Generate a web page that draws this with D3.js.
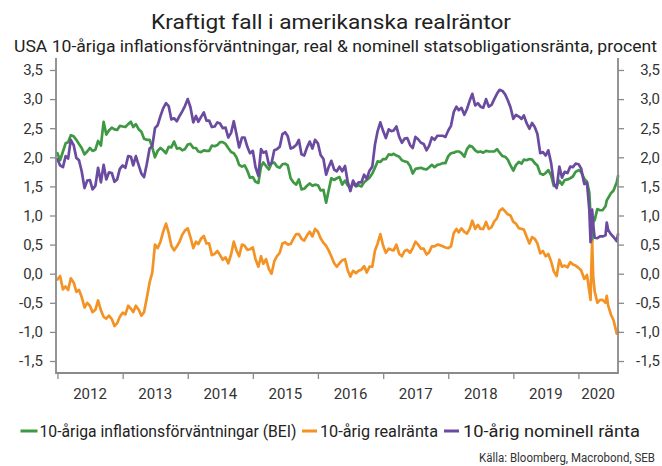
<!DOCTYPE html>
<html><head><meta charset="utf-8">
<script src="https://cdn.jsdelivr.net/npm/d3@7"></script>
<style>html,body{margin:0;padding:0;background:#fff}svg{display:block}</style>
</head><body>
<svg id="chart" width="662" height="466"></svg>
<script>
// ---------- DATA ----------
// 2012-2019: two observations per month (1st and 16th); 2020: explicit dates below
const years = [2012, 2013, 2014, 2015, 2016, 2017, 2018, 2019];
const dates2020 = ["2020-01-02","2020-01-16","2020-02-03","2020-02-18","2020-03-02","2020-03-09","2020-03-13","2020-03-18","2020-03-24","2020-04-01","2020-04-16","2020-05-01","2020-05-15","2020-06-01","2020-06-08","2020-06-16","2020-07-01","2020-07-16","2020-08-03","2020-08-10"];

// 10-åriga inflationsförväntningar (BEI)
const bei = [
  2.07,1.95,2.10,2.24,2.26,2.38,2.36,2.30,2.23,2.16,2.05,2.10,2.16,2.11,2.13,2.28,2.20,2.61,2.39,2.46,2.51,2.48,2.47,2.54,
  2.53,2.52,2.57,2.61,2.52,2.57,2.48,2.44,2.32,2.30,2.30,2.17,2.00,2.11,2.16,2.12,2.07,2.18,2.17,2.27,2.15,2.16,2.12,2.14,
  2.22,2.23,2.16,2.16,2.10,2.09,2.12,2.11,2.11,2.20,2.19,2.21,2.26,2.26,2.23,2.16,2.09,2.07,2.00,1.87,1.84,1.86,1.77,1.65,
  1.66,1.58,1.56,1.84,1.91,1.85,1.79,1.90,1.91,1.84,1.82,1.88,1.89,1.86,1.64,1.57,1.53,1.62,1.45,1.46,1.51,1.55,1.51,1.53,
  1.52,1.43,1.44,1.22,1.43,1.64,1.61,1.64,1.66,1.53,1.60,1.52,1.47,1.55,1.50,1.52,1.50,1.57,1.61,1.65,1.72,1.82,1.93,1.92,
  1.97,1.97,2.05,2.04,2.06,2.03,2.01,1.95,1.93,1.92,1.85,1.72,1.80,1.81,1.82,1.80,1.79,1.83,1.87,1.83,1.87,1.88,1.90,1.90,
  2.02,2.07,2.08,2.10,2.10,2.07,2.01,2.14,2.20,2.18,2.12,2.09,2.10,2.08,2.11,2.10,2.10,2.10,2.14,2.08,2.02,2.01,1.96,1.86,
  1.77,1.87,1.92,1.89,1.96,1.95,1.97,1.96,1.90,1.86,1.72,1.70,1.73,1.78,1.69,1.51,1.51,1.60,1.53,1.61,1.62,1.64,1.67,1.75,
  1.78,1.75,1.63,1.58,1.40,0.99,0.89,0.55,0.89,0.92,1.11,1.09,1.09,1.16,1.26,1.30,1.38,1.43,1.57,1.68
];
// 10-årig realränta
const real = [
  -0.10,-0.04,-0.27,-0.22,-0.28,-0.08,-0.15,-0.31,-0.28,-0.40,-0.58,-0.50,-0.55,-0.66,-0.62,-0.46,-0.63,-0.74,-0.77,-0.72,-0.78,-0.90,-0.85,-0.74,
  -0.67,-0.70,-0.55,-0.60,-0.66,-0.55,-0.62,-0.72,-0.66,-0.42,-0.15,0.02,0.50,0.44,0.55,0.72,0.86,0.70,0.48,0.40,0.47,0.55,0.67,0.74,
  0.78,0.63,0.44,0.55,0.51,0.60,0.65,0.52,0.52,0.32,0.34,0.39,0.32,0.24,0.28,0.18,0.33,0.55,0.40,0.30,0.50,0.48,0.41,0.42,
  0.45,0.25,0.12,0.30,0.17,0.25,0.08,0.00,0.21,0.30,0.36,0.52,0.54,0.50,0.51,0.60,0.68,0.68,0.60,0.57,0.66,0.72,0.64,0.77,
  0.72,0.61,0.53,0.48,0.40,0.30,0.18,0.12,0.18,0.23,0.25,0.06,-0.05,0.05,0.01,0.05,0.07,0.13,0.02,0.12,0.12,0.40,0.52,0.68,
  0.48,0.36,0.43,0.41,0.40,0.50,0.34,0.30,0.39,0.41,0.36,0.44,0.55,0.50,0.43,0.43,0.33,0.37,0.47,0.47,0.50,0.49,0.47,0.45,
  0.44,0.47,0.70,0.77,0.71,0.78,0.72,0.69,0.77,0.91,0.77,0.84,0.77,0.77,0.89,0.77,0.80,0.90,0.95,1.08,1.12,1.07,1.02,1.00,
  0.89,0.86,0.78,0.77,0.76,0.64,0.52,0.63,0.60,0.52,0.35,0.39,0.30,0.34,0.21,0.04,-0.04,0.24,0.12,0.14,0.11,0.20,0.16,0.14,
  0.10,0.06,-0.09,-0.02,-0.30,-0.45,0.05,0.55,-0.05,-0.30,-0.50,-0.45,-0.45,-0.50,-0.38,-0.55,-0.70,-0.80,-1.03,-1.00
];
// 10-årig nominell ränta
const nominal = [
  1.97,1.86,1.83,2.02,1.98,2.30,2.21,1.99,1.95,1.76,1.47,1.60,1.61,1.45,1.51,1.82,1.57,1.87,1.62,1.74,1.73,1.58,1.62,1.80,
  1.86,1.82,2.02,2.01,1.86,2.02,1.86,1.72,1.66,1.88,2.15,2.19,2.50,2.55,2.71,2.84,2.93,2.88,2.65,2.67,2.62,2.71,2.79,2.88,
  3.00,2.86,2.60,2.71,2.61,2.69,2.77,2.63,2.63,2.52,2.53,2.60,2.58,2.50,2.51,2.34,2.42,2.62,2.40,2.17,2.34,2.34,2.18,2.07,
  2.11,1.83,1.68,2.14,2.08,2.10,1.87,1.90,2.12,2.14,2.18,2.40,2.43,2.36,2.15,2.17,2.21,2.30,2.05,2.03,2.17,2.27,2.15,2.30,
  2.24,2.04,1.97,1.70,1.83,1.94,1.79,1.76,1.84,1.76,1.85,1.58,1.42,1.60,1.51,1.57,1.57,1.70,1.63,1.77,1.84,2.22,2.45,2.60,
  2.45,2.33,2.48,2.45,2.46,2.53,2.35,2.25,2.32,2.33,2.21,2.16,2.35,2.31,2.25,2.23,2.12,2.20,2.34,2.30,2.37,2.37,2.37,2.35,
  2.46,2.54,2.78,2.87,2.81,2.85,2.73,2.83,2.97,3.09,2.89,2.93,2.87,2.85,3.00,2.87,2.90,3.00,3.09,3.16,3.14,3.08,2.98,2.86,
  2.66,2.73,2.70,2.66,2.72,2.59,2.49,2.59,2.52,2.40,2.07,2.09,2.03,2.12,1.90,1.55,1.47,1.84,1.65,1.75,1.73,1.84,1.83,1.89,
  1.88,1.81,1.54,1.56,1.10,0.54,0.94,1.10,0.84,0.62,0.61,0.64,0.64,0.66,0.88,0.75,0.68,0.63,0.56,0.68
];
const yTicks = [-1.5, -1.0, -0.5, 0.0, 0.5, 1.0, 1.5, 2.0, 2.5, 3.0, 3.5];
const xYears = [2012, 2013, 2014, 2015, 2016, 2017, 2018, 2019, 2020];
const seriesNames = ["10-åriga inflationsförväntningar (BEI)", "10-årig realränta", "10-årig nominell ränta"];
const seriesColors = ["#3f9843", "#f39325", "#6a4b9f"];
const title = "Kraftigt fall i amerikanska realräntor";
const subtitle = "USA 10-åriga inflationsförväntningar, real & nominell statsobligationsränta, procent";
const source = "Källa: Bloomberg, Macrobond, SEB";

// ---------- BUILD ----------
const parse = d3.utcParse("%Y-%m-%d");
const dates = [];
years.forEach(yr => { for (let m = 0; m < 12; m++) { dates.push(new Date(Date.UTC(yr, m, 1))); dates.push(new Date(Date.UTC(yr, m, 16))); } });
dates2020.forEach(s => dates.push(parse(s)));
const series = [bei, real, nominal].map((vals, i) => ({
  name: seriesNames[i], color: seriesColors[i],
  points: vals.map((v, j) => ({ date: dates[j], value: v }))
}));

const FONT = "Roboto, 'Noto Sans', sans-serif";
const svg = d3.select("#chart").style("font-family", FONT);
const L = 56, R = 618, T = 58, B = 373;

const x = d3.scaleUtc().domain([Date.UTC(2011, 11, 24), Date.UTC(2020, 7, 10)]).range([L, R]);
const y = d3.scaleLinear().domain([-1.706, 3.706]).range([B, T]);
const fmt = d => (d < 0 ? "-" : "") + Math.abs(d).toFixed(1).replace(".", ",");

// title & subtitle
svg.append("text").attr("x", 331).attr("y", 29).attr("text-anchor", "middle")
  .attr("font-size", 21).attr("fill", "#222").attr("textLength", 360).attr("lengthAdjust", "spacingAndGlyphs").text(title);
svg.append("text").attr("x", 14).attr("y", 52)
  .attr("font-size", 16.5).attr("fill", "#222").attr("textLength", 643).attr("lengthAdjust", "spacingAndGlyphs").text(subtitle);

// lines
const line = d3.line().x(d => x(d.date)).y(d => y(d.value));
svg.append("g").selectAll("path").data(series).join("path")
  .attr("d", d => line(d.points)).attr("fill", "none").attr("stroke", d => d.color)
  .attr("stroke-width", 2.7).attr("stroke-linejoin", "round").attr("stroke-linecap", "round");

// axes
const axisColor = "#8a8a8a";
const gl = svg.append("g").attr("transform", `translate(${L},0)`)
  .call(d3.axisLeft(y).tickValues(yTicks).tickFormat(fmt).tickSize(6).tickPadding(7));
const gr = svg.append("g").attr("transform", `translate(${R},0)`)
  .call(d3.axisRight(y).tickValues(yTicks).tickFormat(fmt).tickSize(6).tickPadding(7));
gr.selectAll(".tick text").attr("text-anchor", "end").attr("x", 42);
const tickDates = xYears.map(yr => new Date(Date.UTC(yr, 0, 1)));
const gb = svg.append("g").attr("transform", `translate(0,${B})`)
  .call(d3.axisBottom(x).tickValues(tickDates).tickFormat("").tickSize(6));
[gl, gr, gb].forEach(g => {
  g.select(".domain").remove();
  g.selectAll(".tick line").attr("stroke", axisColor).attr("stroke-width", 1.3);
  g.selectAll(".tick text").attr("fill", "#333").attr("font-size", 15).attr("font-family", FONT);
});
// frame lines (left, bottom, right)
svg.append("path").attr("d", `M${L},${T}V${B}H${R}V${T}`).attr("fill", "none")
  .attr("stroke", axisColor).attr("stroke-width", 1.8);

// year labels centred in each year interval
xYears.forEach(yr => {
  const a = x(new Date(Date.UTC(yr, 0, 1)));
  const b = Math.min(x(new Date(Date.UTC(yr + 1, 0, 1))), R);
  svg.append("text").attr("x", (a + b) / 2).attr("y", 399).attr("text-anchor", "middle")
    .attr("font-size", 15).attr("fill", "#333").text(yr);
});

// legend
const legendPos = [{ sx: 20.5, sw: 17, tx: 39.5, tl: 257 }, { sx: 302, sw: 15, tx: 320, tl: 118 }, { sx: 444, sw: 15, tx: 463, tl: 177 }];
const lg = svg.append("g");
series.forEach((s, i) => {
  const p = legendPos[i];
  lg.append("rect").attr("x", p.sx).attr("y", 429.5).attr("width", p.sw).attr("height", 3).attr("fill", s.color);
  lg.append("text").attr("x", p.tx).attr("y", 437).attr("font-size", 16.5).attr("fill", "#222")
    .attr("textLength", p.tl).attr("lengthAdjust", "spacingAndGlyphs").text(s.name);
});

// source
svg.append("text").attr("x", 655).attr("y", 462).attr("text-anchor", "end")
  .attr("font-size", 12).attr("fill", "#333").attr("textLength", 176).attr("lengthAdjust", "spacingAndGlyphs").text(source);
</script>
</body></html>
